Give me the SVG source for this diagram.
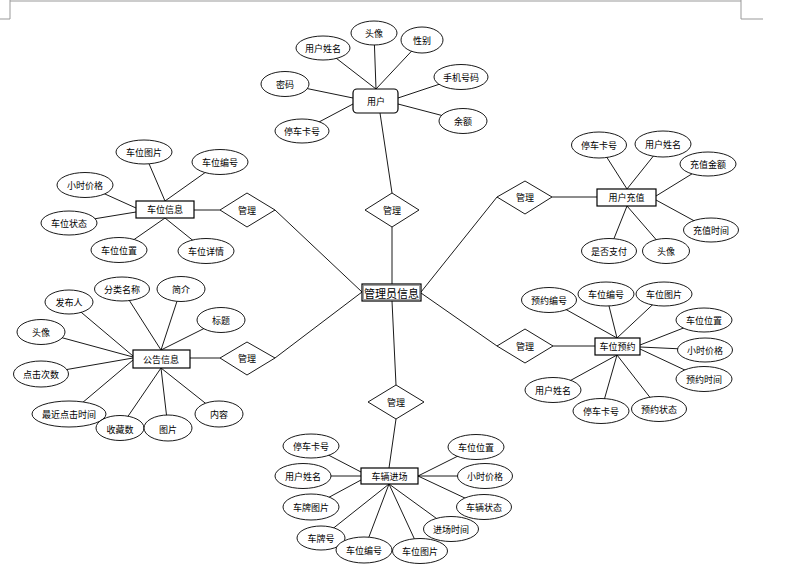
<svg xmlns="http://www.w3.org/2000/svg" width="792" height="574" viewBox="0 0 792 574">
<style>
.c line{stroke:#000;stroke-width:0.9}
.pg{stroke:#999;stroke-width:1;fill:none}
ellipse,.e,.d{fill:#fff;stroke:#000;stroke-width:0.9}
.e{stroke-width:1.2}
text{font-family:"Noto Sans CJK SC","Liberation Sans",sans-serif;font-size:9px;text-anchor:middle;dominant-baseline:central;fill:#000}
.big{font-size:11px}
</style>
<g id="page">
<path class="pg" d="M10,0V19H0M10,1H741M741,0V19H763"/>
</g>
<g class="c" id="connectors">
<line x1="376" y1="89" x2="323" y2="48"/>
<line x1="376" y1="89" x2="374" y2="33"/>
<line x1="376" y1="89" x2="422" y2="40"/>
<line x1="353" y1="98" x2="285" y2="84"/>
<line x1="353" y1="104" x2="302" y2="131"/>
<line x1="398" y1="98" x2="461" y2="77"/>
<line x1="398" y1="104" x2="463" y2="121"/>
<line x1="380" y1="113" x2="392" y2="193"/>
<line x1="392" y1="227" x2="392" y2="284"/>
<line x1="165" y1="201" x2="144" y2="152"/>
<line x1="165" y1="201" x2="220" y2="162"/>
<line x1="136" y1="208" x2="85" y2="185"/>
<line x1="136" y1="212" x2="69" y2="223"/>
<line x1="165" y1="218" x2="119" y2="250"/>
<line x1="165" y1="218" x2="206" y2="251"/>
<line x1="194" y1="210" x2="220" y2="210"/>
<line x1="275" y1="210" x2="362" y2="292"/>
<line x1="133" y1="356" x2="69" y2="302"/>
<line x1="161" y1="350" x2="122" y2="289"/>
<line x1="161" y1="350" x2="181" y2="289"/>
<line x1="161" y1="350" x2="221" y2="320"/>
<line x1="133" y1="357" x2="41" y2="332"/>
<line x1="133" y1="358" x2="41" y2="374"/>
<line x1="133" y1="360" x2="69" y2="414"/>
<line x1="161" y1="368" x2="120" y2="428"/>
<line x1="161" y1="368" x2="168" y2="428"/>
<line x1="161" y1="368" x2="219" y2="414"/>
<line x1="190" y1="358" x2="220" y2="358"/>
<line x1="275" y1="358" x2="362" y2="292"/>
<line x1="627" y1="189" x2="599" y2="145"/>
<line x1="627" y1="189" x2="663" y2="144"/>
<line x1="656" y1="196" x2="708" y2="164"/>
<line x1="656" y1="200" x2="711" y2="230"/>
<line x1="627" y1="206" x2="609" y2="251"/>
<line x1="627" y1="206" x2="666" y2="251"/>
<line x1="552" y1="197" x2="597" y2="197"/>
<line x1="497" y1="197" x2="421" y2="292"/>
<line x1="617" y1="338" x2="549" y2="300"/>
<line x1="617" y1="338" x2="606" y2="294"/>
<line x1="617" y1="338" x2="664" y2="294"/>
<line x1="640" y1="345" x2="704" y2="320"/>
<line x1="640" y1="347" x2="705" y2="350"/>
<line x1="640" y1="349" x2="704" y2="379"/>
<line x1="617" y1="355" x2="553" y2="390"/>
<line x1="617" y1="355" x2="601" y2="411"/>
<line x1="617" y1="355" x2="659" y2="409"/>
<line x1="553" y1="346" x2="595" y2="346"/>
<line x1="421" y1="293" x2="497" y2="346"/>
<line x1="392" y1="301" x2="396" y2="385"/>
<line x1="396" y1="419" x2="389" y2="468"/>
<line x1="361" y1="472" x2="311" y2="446"/>
<line x1="361" y1="476" x2="303" y2="476"/>
<line x1="361" y1="480" x2="311" y2="507"/>
<line x1="389" y1="484" x2="321" y2="538"/>
<line x1="389" y1="484" x2="364" y2="550"/>
<line x1="389" y1="484" x2="420" y2="551"/>
<line x1="389" y1="484" x2="451" y2="529"/>
<line x1="418" y1="476" x2="484" y2="507"/>
<line x1="418" y1="476" x2="485" y2="476"/>
<line x1="418" y1="476" x2="476" y2="447"/>
</g>
<g id="n-user">
<rect class="e" x="353" y="89" width="45" height="24" rx="4"/><text x="376" y="101">用户</text>
<ellipse cx="323" cy="48" rx="27" ry="12"/><text x="323" y="48">用户姓名</text>
<ellipse cx="374" cy="33" rx="23" ry="12"/><text x="374" y="33">头像</text>
<ellipse cx="422" cy="40" rx="21" ry="13"/><text x="422" y="40">性别</text>
<ellipse cx="461" cy="77" rx="27" ry="12.5"/><text x="461" y="77">手机号码</text>
<ellipse cx="463" cy="121" rx="24" ry="12.5"/><text x="463" y="121">余额</text>
<ellipse cx="285" cy="84" rx="24" ry="12.5"/><text x="285" y="84">密码</text>
<ellipse cx="302" cy="131" rx="27" ry="12"/><text x="302" y="131">停车卡号</text>
</g>
<g id="d-user"><polygon class="d" points="392,193 419,210 392,227 365,210"/><text x="392" y="210">管理</text></g>
<g id="n-admin"><rect class="e" x="362" y="284" width="59" height="17" stroke-width="1.4"/><rect x="363.5" y="285.5" width="56" height="14" fill="none" stroke="#888" stroke-width="0.8"/><text class="big" x="391.5" y="292.5">管理员信息</text></g>
<g id="n-space">
<rect class="e" x="136" y="201" width="58" height="17"/><text x="165" y="209.5">车位信息</text>
<ellipse cx="144" cy="152" rx="28" ry="12"/><text x="144" y="152">车位图片</text>
<ellipse cx="220" cy="162" rx="28" ry="12.5"/><text x="220" y="162">车位编号</text>
<ellipse cx="85" cy="185" rx="28" ry="12.5"/><text x="85" y="185">小时价格</text>
<ellipse cx="69" cy="223" rx="28" ry="12"/><text x="69" y="223">车位状态</text>
<ellipse cx="119" cy="250" rx="28" ry="12.5"/><text x="119" y="250">车位位置</text>
<ellipse cx="206" cy="251" rx="28" ry="12.5"/><text x="206" y="251">车位详情</text>
</g>
<g id="d-space"><polygon class="d" points="247,193 275,210 247,227 220,210"/><text x="247" y="210">管理</text></g>
<g id="n-notice">
<rect class="e" x="133" y="350" width="57" height="18"/><text x="161" y="359">公告信息</text>
<ellipse cx="69" cy="302" rx="24" ry="12"/><text x="69" y="302">发布人</text>
<ellipse cx="122" cy="289" rx="27.5" ry="12"/><text x="122" y="289">分类名称</text>
<ellipse cx="181" cy="289" rx="24" ry="12.5"/><text x="181" y="289">简介</text>
<ellipse cx="221" cy="320" rx="24" ry="12.5"/><text x="221" y="320">标题</text>
<ellipse cx="41" cy="332" rx="24" ry="12.5"/><text x="41" y="332">头像</text>
<ellipse cx="41" cy="374" rx="27.5" ry="13"/><text x="41" y="374">点击次数</text>
<ellipse cx="69" cy="414" rx="37" ry="13"/><text x="69" y="414">最近点击时间</text>
<ellipse cx="120" cy="428" rx="24" ry="12.5"/><text x="120" y="429">收藏数</text>
<ellipse cx="168" cy="428" rx="24" ry="13"/><text x="168" y="429">图片</text>
<ellipse cx="219" cy="414" rx="24" ry="13"/><text x="219" y="414">内容</text>
</g>
<g id="d-notice"><polygon class="d" points="247,342 275,358 247,375 220,358"/><text x="247" y="358">管理</text></g>
<g id="n-recharge">
<rect class="e" x="597" y="189" width="59" height="17"/><text x="626.5" y="197.5">用户充值</text>
<ellipse cx="599" cy="145" rx="27.5" ry="13"/><text x="599" y="145">停车卡号</text>
<ellipse cx="663" cy="144" rx="28" ry="13"/><text x="663" y="144">用户姓名</text>
<ellipse cx="708" cy="164" rx="28" ry="12"/><text x="708" y="164">充值金额</text>
<ellipse cx="711" cy="230" rx="27.5" ry="12"/><text x="711" y="230">充值时间</text>
<ellipse cx="609" cy="251" rx="27.5" ry="12.5"/><text x="609" y="251">是否支付</text>
<ellipse cx="666" cy="251" rx="23.5" ry="12.5"/><text x="666" y="251">头像</text>
</g>
<g id="d-recharge"><polygon class="d" points="525,181 552,197 525,214 497,197"/><text x="525" y="197">管理</text></g>
<g id="n-booking">
<rect class="e" x="595" y="338" width="45" height="17"/><text x="617.5" y="346.5">车位预约</text>
<ellipse cx="549" cy="300" rx="27.5" ry="12.5"/><text x="549" y="300">预约编号</text>
<ellipse cx="606" cy="294" rx="28" ry="12"/><text x="606" y="294">车位编号</text>
<ellipse cx="664" cy="294" rx="28" ry="12"/><text x="664" y="294">车位图片</text>
<ellipse cx="704" cy="320" rx="28" ry="12"/><text x="704" y="320">车位位置</text>
<ellipse cx="705" cy="350" rx="27.5" ry="12"/><text x="705" y="350">小时价格</text>
<ellipse cx="704" cy="379" rx="28" ry="12.5"/><text x="704" y="379">预约时间</text>
<ellipse cx="553" cy="390" rx="28" ry="12.5"/><text x="553" y="390">用户姓名</text>
<ellipse cx="601" cy="411" rx="28" ry="12.5"/><text x="601" y="411">停车卡号</text>
<ellipse cx="659" cy="409" rx="27.5" ry="12.5"/><text x="659" y="409">预约状态</text>
</g>
<g id="d-booking"><polygon class="d" points="525,329 553,346 525,363 497,346"/><text x="525" y="346">管理</text></g>
<g id="n-entry">
<rect class="e" x="361" y="468" width="57" height="16"/><text x="389.5" y="476">车辆进场</text>
<ellipse cx="311" cy="446" rx="28" ry="12"/><text x="311" y="446">停车卡号</text>
<ellipse cx="303" cy="476" rx="28" ry="12.5"/><text x="303" y="476">用户姓名</text>
<ellipse cx="311" cy="507" rx="28" ry="13"/><text x="311" y="507">车牌图片</text>
<ellipse cx="321" cy="538" rx="24" ry="12"/><text x="321" y="538">车牌号</text>
<ellipse cx="364" cy="550" rx="28" ry="13"/><text x="364" y="550">车位编号</text>
<ellipse cx="420" cy="551" rx="27.5" ry="12.5"/><text x="420" y="551">车位图片</text>
<ellipse cx="451" cy="529" rx="27.5" ry="12.5"/><text x="451" y="529">进场时间</text>
<ellipse cx="484" cy="507" rx="27.5" ry="12.5"/><text x="484" y="507">车辆状态</text>
<ellipse cx="485" cy="476" rx="27.5" ry="12.5"/><text x="485" y="476">小时价格</text>
<ellipse cx="476" cy="447" rx="28" ry="12.5"/><text x="476" y="447">车位位置</text>
</g>
<g id="d-entry"><polygon class="d" points="396,385 424,402 396,419 368,402"/><text x="396" y="402">管理</text></g>
</svg>
